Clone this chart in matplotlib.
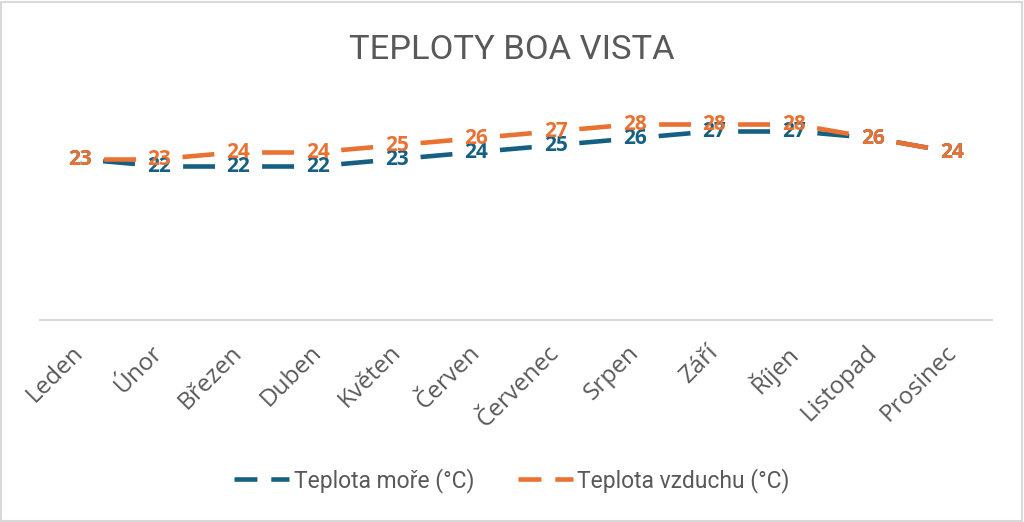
import matplotlib
matplotlib.use('Agg')
import matplotlib.pyplot as plt
from matplotlib.lines import Line2D
from matplotlib.patches import Rectangle
from matplotlib import font_manager

months = ['Leden', 'Únor', 'Březen', 'Duben', 'Květen', 'Červen',
          'Červenec', 'Srpen', 'Září', 'Říjen', 'Listopad', 'Prosinec']
sea_temp = [23, 22, 22, 22, 23, 24, 25, 26, 27, 27, 26, 24]
air_temp = [23, 23, 24, 24, 25, 26, 27, 28, 28, 28, 26, 24]
series_names = ['Teplota moře (°C)', 'Teplota vzduchu (°C)']
title = 'TEPLOTY BOA VISTA'

SEA_COLOR = '#156082'
AIR_COLOR = '#E97132'
TEXT_COLOR = '#595959'
GRID_COLOR = '#D9D9D9'


def has_font(name):
    try:
        font_manager.findfont(name, fallback_to_default=False)
        return True
    except ValueError:
        return False


narrow = 'Liberation Sans Narrow' if has_font('Liberation Sans Narrow') else 'Roboto'
plt.rcParams['font.family'] = ['Open Sans', 'DejaVu Sans']
plt.rcParams['lines.scale_dashes'] = False

fig = plt.figure(figsize=(10.24, 5.22), dpi=100)
ax = fig.add_axes([0.039, 0.387, 0.930, 0.402])

# one dash centred in every segment, like the Excel long-dash
seg_style = (40, (23, 34))
x = list(range(len(months)))
for values, color in [(sea_temp, SEA_COLOR), (air_temp, AIR_COLOR)]:
    for i in range(len(x) - 1):
        ax.plot(x[i:i + 2], values[i:i + 2], color=color, lw=3.3,
                linestyle=seg_style, solid_capstyle='butt', dash_capstyle='butt')

for values, color in [(sea_temp, SEA_COLOR), (air_temp, AIR_COLOR)]:
    for xi, v in zip(x, values):
        ax.text(xi, v, str(v), color=color, fontsize=15, fontweight='bold',
                ha='center', va='center')

ax.set_xlim(-0.5, len(months) - 0.5)
ax.set_ylim(0, 30)
ax.set_yticks([])
ax.set_xticks(x)
ax.set_xticklabels(months, rotation=45, ha='right', va='center',
                   rotation_mode='anchor', color=TEXT_COLOR, fontsize=17.5)
ax.tick_params(axis='x', length=0, pad=21)
for side in ['top', 'left', 'right']:
    ax.spines[side].set_visible(False)
ax.spines['bottom'].set_color(GRID_COLOR)
ax.spines['bottom'].set_linewidth(1.5)

fig.text(0.5, 0.904, title, ha='center', va='center', fontsize=24.8,
         color=TEXT_COLOR, family=[narrow, 'DejaVu Sans'])

handles = [Line2D([], [], color=SEA_COLOR, lw=3.3, linestyle=(0, (16.5, 10))),
           Line2D([], [], color=AIR_COLOR, lw=3.3, linestyle=(0, (16.5, 10)))]
leg = fig.legend(handles, series_names, loc='center', bbox_to_anchor=(0.5, 0.080),
                 ncol=2, frameon=False, handlelength=2.4, handletextpad=0.2,
                 columnspacing=1.9, prop={'family': [narrow, 'DejaVu Sans'], 'size': 16.5})
for t in leg.get_texts():
    t.set_color(TEXT_COLOR)

fig.patches.append(Rectangle((0.001, 0.002), 0.997, 0.995, transform=fig.transFigure,
                             fill=False, edgecolor=GRID_COLOR, lw=1.5))

fig.savefig('out.png', dpi=100)
